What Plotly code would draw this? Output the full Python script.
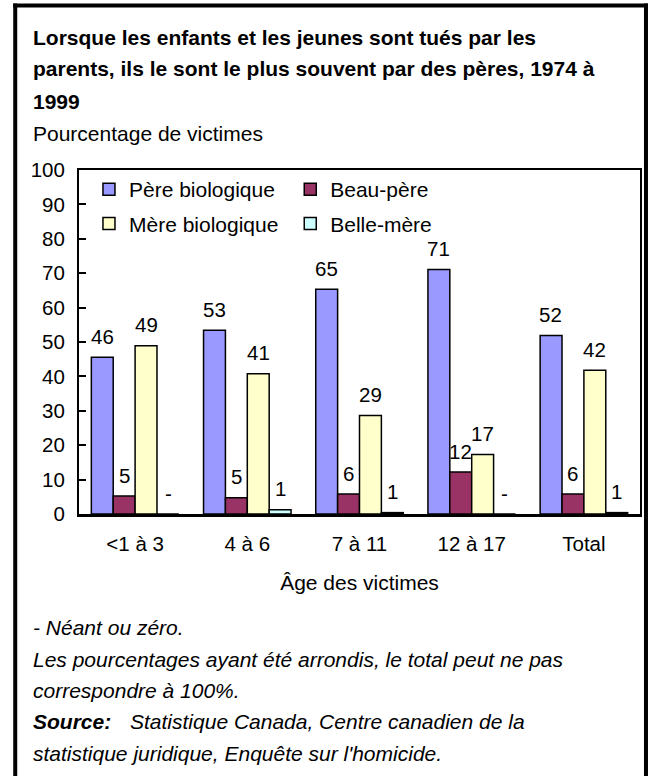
import plotly.graph_objects as go

# ---- data ----
categories = ["<1 à 3", "4 à 6", "7 à 11", "12 à 17", "Total"]
series_names = ["Père biologique", "Beau-père", "Mère biologique", "Belle-mère"]
pere_bio = [45.6, 53.4, 65.3, 71.1, 51.9]
beau_pere = [5.2, 4.7, 5.8, 12.2, 5.8]
mere_bio = [48.9, 40.8, 28.6, 17.3, 41.8]
belle_mere = [0, 1.2, 0.4, 0, 0.4]
pere_bio_lbl = ["46", "53", "65", "71", "52"]
beau_pere_lbl = ["5", "5", "6", "12", "6"]
mere_bio_lbl = ["49", "41", "29", "17", "42"]
belle_mere_lbl = ["-", "1", "1", "-", "1"]
y_ticks = [0, 10, 20, 30, 40, 50, 60, 70, 80, 90, 100]

colors = ["#9999FF", "#993366", "#FFFFCC", "#CCFFFF"]
values = [pere_bio, beau_pere, mere_bio, belle_mere]
labels = [pere_bio_lbl, beau_pere_lbl, mere_bio_lbl, belle_mere_lbl]
legends = ["legend", "legend2", "legend", "legend2"]

FONT = "Liberation Sans, Arial, sans-serif"
WIDTH, HEIGHT = 650, 776
L, R, T, B = 79, 8, 170, 262
PW = WIDTH - L - R
PH = HEIGHT - T - B
BARGAP = 0.22


def fx(px):
    return (px - L) / PW


def fy(py):
    return (HEIGHT - B - py) / PH


fig = go.Figure()
for i, name in enumerate(series_names):
    fig.add_trace(go.Bar(
        x=categories, y=values[i], name=name,
        marker=dict(color=colors[i], line=dict(color="black", width=1.5)),
        legend=legends[i], legendgroup=name,
        hoverinfo="skip",
    ))

# data labels
group_px = PW / len(categories)
bar_px = group_px * (1 - BARGAP) / len(series_names)
annotations = []
for i in range(len(series_names)):
    for j, cat in enumerate(categories):
        annotations.append(dict(
            x=cat, y=values[i][j], xref="x", yref="y",
            text=labels[i][j], showarrow=False,
            xshift=(i - 1.5) * bar_px, yshift=21,
            xanchor="center", yanchor="middle",
            font=dict(family=FONT, size=20.5, color="black"),
        ))


def txt(text, px, py, size=21, **kw):
    annotations.append(dict(
        text=text, x=fx(px), y=fy(py), xref="paper", yref="paper",
        xanchor="left", yanchor="middle", showarrow=False,
        font=dict(family=FONT, size=size, color="black", **kw),
    ))


txt("<b>Lorsque les enfants et les jeunes sont tués par les</b>", 31, 37)
txt("<b>parents, ils le sont le plus souvent par des pères, 1974 à</b>", 31, 69)
txt("<b>1999</b>", 31, 101)
txt("Pourcentage de victimes", 31, 133)
txt("<i>- Néant ou zéro.</i>", 31, 627)
txt("<i>Les pourcentages ayant été arrondis, le total peut ne pas</i>", 31, 659)
txt("<i>correspondre à 100%.</i>", 31, 690)
txt("<b><i>Source:</i></b>", 31, 721)
txt("<i>Statistique Canada, Centre canadien de la</i>", 128, 721)
txt("<i>statistique juridique, Enquête sur l'homicide.</i>", 31, 753)

# outer frame (left, top, right; open at the bottom edge of the picture)
frame = dict(color="black", width=4)
shapes = [
    dict(type="line", xref="paper", yref="paper",
         x0=fx(15), x1=fx(15), y0=fy(3.5), y1=fy(800), line=frame),
    dict(type="line", xref="paper", yref="paper",
         x0=fx(13), x1=fx(650), y0=fy(5.5), y1=fy(5.5), line=frame),
    dict(type="line", xref="paper", yref="paper",
         x0=fx(648), x1=fx(648), y0=fy(3.5), y1=fy(800), line=frame),
]

legend_common = dict(
    orientation="v", xanchor="left", yanchor="top",
    font=dict(family=FONT, size=21, color="black"),
    bgcolor="rgba(0,0,0,0)", tracegroupgap=4, itemclick=False,
)

fig.update_layout(
    width=WIDTH, height=HEIGHT,
    margin=dict(l=L, r=R, t=T, b=B, pad=0),
    paper_bgcolor="white", plot_bgcolor="white",
    barmode="group", bargap=BARGAP, bargroupgap=0,
    font=dict(family=FONT, size=20.5, color="black"),
    showlegend=True,
    legend=dict(x=fx(89), y=fy(169), **legend_common),
    legend2=dict(x=fx(291), y=fy(169), **legend_common),
    annotations=annotations,
    shapes=shapes,
    xaxis=dict(
        type="category", showline=True, linecolor="black", linewidth=2.5,
        mirror=True, ticks="", showgrid=False, ticklabelstandoff=10,
        tickfont=dict(family=FONT, size=20.5),
        title=dict(text="Âge des victimes", standoff=21,
                   font=dict(family=FONT, size=21)),
    ),
    yaxis=dict(
        range=[0, 100], tickvals=y_ticks, showline=True, linecolor="black",
        linewidth=2, mirror=True, ticks="inside", ticklen=7, tickwidth=2,
        tickcolor="black", showgrid=False, zeroline=False,
        tickfont=dict(family=FONT, size=20.5), ticklabelstandoff=8,
    ),
)

fig.write_html(
    "out.html",
    config={"displayModeBar": False, "staticPlot": True},
    post_script="document.body.style.margin='0';",
)
